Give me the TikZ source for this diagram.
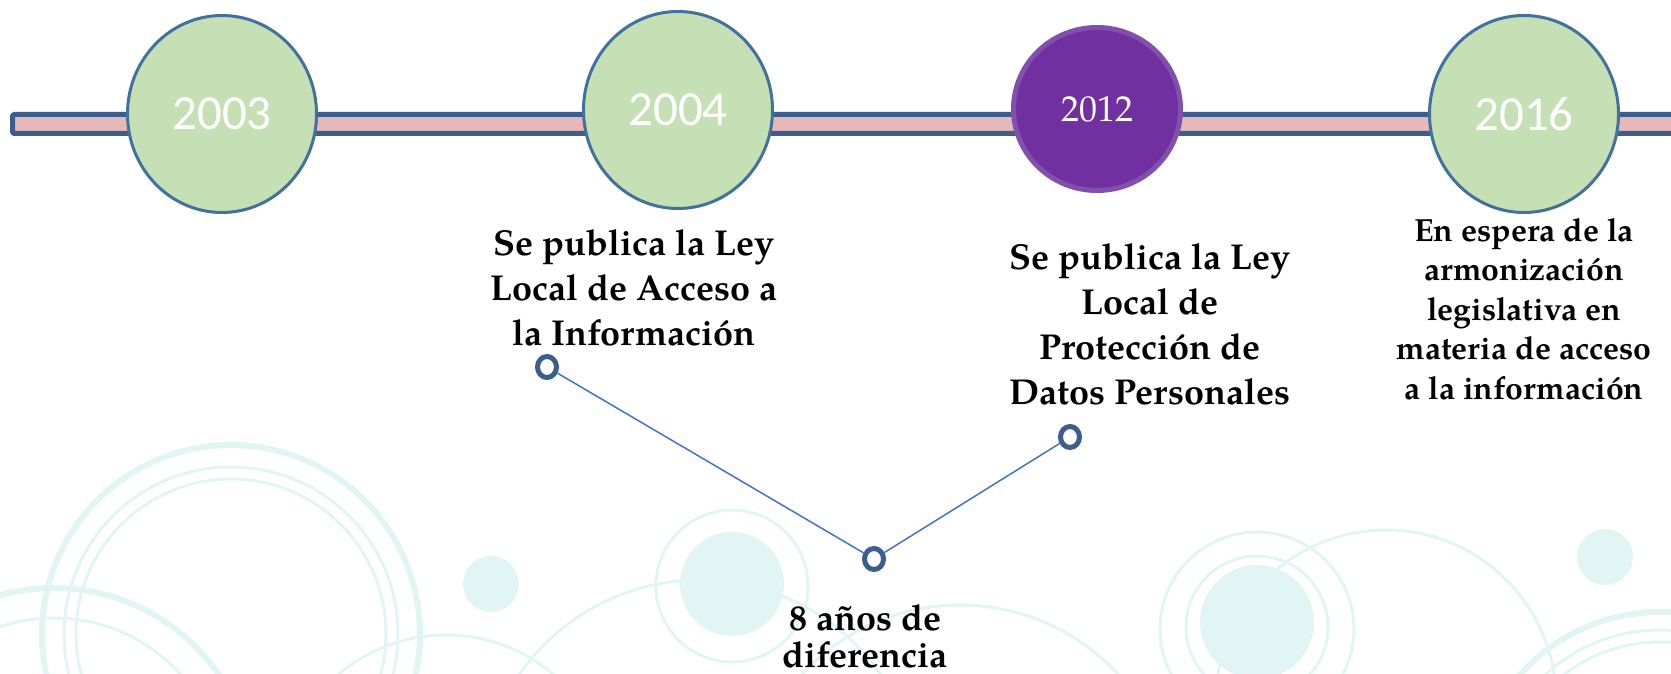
\documentclass[tikz,border=0pt]{standalone}
\usepackage{fontspec}
\setmainfont{TeX Gyre Pagella}
\newfontfamily\calibri{Carlito}
\usetikzlibrary{shapes.geometric}

\definecolor{barblue}{RGB}{59,94,140}
\definecolor{barpink}{RGB}{230,185,184}
\definecolor{ballgreen}{RGB}{197,224,180}
\definecolor{ballline}{RGB}{65,113,156}
\definecolor{ballpurple}{RGB}{112,48,160}
\definecolor{purpleline}{RGB}{130,80,172}
\definecolor{linkblue}{RGB}{68,114,196}
\definecolor{decor}{RGB}{226,245,245}

\tikzset{
  yearball/.style={ellipse, draw=ballline, line width=1.5pt, fill=ballgreen,
    minimum width=94.5pt, minimum height=98.5pt, inner sep=0pt, text=white,
    font=\calibri\fontsize{24.5}{28}\selectfont},
  purpleball/.style={ellipse, draw=purpleline, line width=2.5pt, fill=ballpurple,
    minimum width=83.5pt, minimum height=81.5pt, inner sep=0pt, text=white,
    font=\fontsize{18}{20}\selectfont},
  note/.style={align=center, inner sep=0pt, anchor=north,
    font=\bfseries\fontsize{18}{22.5}\selectfont},
  smallnote/.style={note, font=\bfseries\fontsize{16}{19.7}\selectfont},
  gapnote/.style={note, font=\bfseries\fontsize{18}{18.5}\selectfont},
  marker/.style={ellipse, draw=barblue, line width=2.5pt, fill=white,
    minimum width=9.5pt, minimum height=10.5pt, inner sep=0pt},
  decoring/.style={draw=decor, line width=1.5pt},
  decothick/.style={draw=decor, line width=3pt}
}

\begin{document}
\begin{tikzpicture}[x=0.5pt, y=-0.5pt]
	% Page size
	\useasboundingbox (0,0) rectangle (1671,674);
	\clip (0,0) rectangle (1671,674);
	
	% Background circles
	\fill[decor] (491,584) circle (28);
	\fill[decor] (732,584) circle (52);
	\fill[decor] (1257,622) circle (57);
	\fill[decor] (1605,557) circle (28);
	\foreach \x/\y/\r in {231/634/167, 231/634/155, 54/788/170, 446/801/166,
		732/586/76, 700/800/220, 960/820/215, 1257/627/71, 1257/629/97,
		1386/700/170, 1660/800/170, 1660/800/158} {
		\draw[decoring] (\x,\y) circle (\r);
	}
	\foreach \x/\y/\r in {231/634/189, 54/788/200, 1660/800/188} {
		\draw[decothick] (\x,\y) circle (\r);
	}
	
	% Time line
	\draw[barblue, fill=barpink, line width=2.5pt, rounded corners=1pt] (12.5,114.5) rectangle (1690,133.5);
	
	% Years
	\node[yearball] (y2003) at (222,114) {2003};
	\node[yearball] (y2004) at (678,110) {2004};
	\node[purpleball] (y2012) at (1097,109) {2012};
	\node[yearball] (y2016) at (1524,114) {2016};
	
	% Texts under the years
	\node[note] (t2004) at (634,229) {Se publica la Ley\\Local de Acceso a\\la Información};
	\node[note] (t2012) at (1150,243) {Se publica la Ley\\Local de\\Protección de\\Datos Personales};
	\node[smallnote] (t2016) at (1524,218) {En espera de la\\armonización\\legislativa en\\materia de acceso\\a la información};
	\node[gapnote] (gap) at (865,604) {8 años de\\diferencia};
	
	% Markers and links
	\node[marker] (m1) at (547,367) {};
	\node[marker] (m2) at (1070,437) {};
	\node[marker] (m3) at (874,559) {};
	\draw[linkblue, line width=0.75pt] (m1) -- (m3);
	\draw[linkblue, line width=0.75pt] (m3) -- (m2);
	
\end{tikzpicture}
\end{document}
